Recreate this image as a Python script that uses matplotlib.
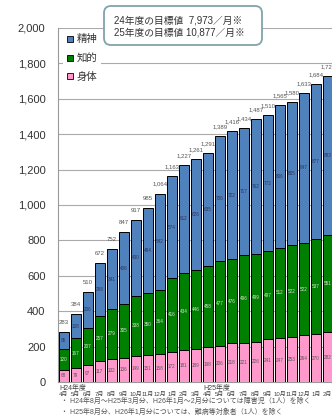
import numpy as np
import matplotlib
matplotlib.use('Agg')
import matplotlib.pyplot as plt
from matplotlib.lines import Line2D
from matplotlib.patches import FancyBboxPatch

plt.rcParams['font.family'] = ['Liberation Sans', 'Noto Sans CJK JP', 'DejaVu Sans']

# 月ラベル (H24年4月 ～ H26年2月)
months = ['4月', '5月', '6月', '7月', '8月', '9月', '10月', '11月', '12月', '1月', '2月', '3月',
          '4月', '5月', '6月', '7月', '8月', '9月', '10月', '11月', '12月', '1月', '2月']

# 身体・知的・精神 の人数
shintai = [68, 79, 97, 117, 132, 136, 149, 151, 158, 172, 181, 189,
           198, 206, 218, 221, 226, 241, 247, 253, 264, 270, 282]
chiteki = [120, 167, 207, 257, 279, 305, 338, 350, 364, 416, 434, 446,
           458, 477, 476, 496, 499, 497, 512, 522, 522, 537, 551]
seishin = [95, 138, 206, 298, 341, 406, 430, 484, 542, 574, 612, 626,
           635, 706, 722, 717, 762, 772, 806, 805, 847, 877, 893]
totals = [283, 384, 510, 672, 752, 847, 917, 985, 1064, 1163, 1227, 1261,
          1291, 1389, 1416, 1434, 1487, 1510, 1565, 1580, 1633, 1684, 1726]

c_blue = '#4f81bd'
c_green = '#008000'
c_pink = '#ff99cc'

W, H = 332, 417
fig = plt.figure(figsize=(W / 100, H / 100), dpi=100)
ax = fig.add_axes([58 / W, 1 - 382 / H, 1 - 58 / W, (382 - 28) / H])

x = np.arange(len(months))
bw = 0.79
s = np.array(shintai)
c = np.array(chiteki)
m = np.array(seishin)

ax.bar(x, s, bw, color=c_pink, edgecolor='black', linewidth=0.7, zorder=3)
ax.bar(x, c, bw, bottom=s, color=c_green, edgecolor='black', linewidth=0.7, zorder=3)
ax.bar(x, m, bw, bottom=s + c, color=c_blue, edgecolor='black', linewidth=0.7, zorder=3)

# 内訳ラベル
for i in range(len(x)):
    ax.text(x[i], s[i] / 2, str(s[i]), ha='center', va='center', fontsize=3.3, color='#555555', zorder=4)
    ax.text(x[i], s[i] + c[i] / 2, str(c[i]), ha='center', va='center', fontsize=3.3, color='#dddddd', zorder=4)
    ax.text(x[i], s[i] + c[i] + m[i] / 2, str(m[i]), ha='center', va='center', fontsize=3.3, color='#333355', zorder=4)
    ax.annotate(f'{totals[i]:,}', (x[i], totals[i]), xytext=(0, 5), textcoords='offset points',
                ha='center', va='bottom', fontsize=4.3, color='#555555', zorder=4, annotation_clip=False)

ax.set_ylim(0, 2000)
ax.set_xlim(-0.48, 22.35)
ax.set_yticks(range(0, 2001, 200))
ax.set_yticklabels([f'{v:,}' for v in range(0, 2001, 200)])
ax.tick_params(axis='y', length=0, pad=9, labelsize=8, labelcolor='#333333')
ax.set_xticks(x)
ax.set_xticklabels(months)
ax.tick_params(axis='x', length=0, pad=7.5, labelsize=4.3, labelcolor='#444444')
ax.yaxis.grid(True, color='#aaaaaa', linewidth=0.8, zorder=0)
ax.set_axisbelow(True)
for sp in ['top', 'right']:
    ax.spines[sp].set_visible(False)
ax.spines['left'].set_color('#999999')
ax.spines['bottom'].set_color('#999999')

ax.annotate('H24年度', (x[0] - bw / 2, 0), xytext=(0, -2), textcoords='offset points',
            ha='left', va='top', fontsize=5, color='#444444', annotation_clip=False)
ax.annotate('H25年度', (x[12] - bw / 2, 0), xytext=(0, -2), textcoords='offset points',
            ha='left', va='top', fontsize=5, color='#444444', annotation_clip=False)

handles = [Line2D([], [], marker='s', linestyle='none', markersize=4, markerfacecolor=col,
                  markeredgecolor='black', markeredgewidth=0.6) for col in [c_blue, c_green, c_pink]]
leg = ax.legend(handles, ['精神', '知的', '身体'], loc='upper left', bbox_to_anchor=(0.01, 1.0),
                fontsize=7.5, frameon=True, facecolor='white', edgecolor='none', framealpha=1,
                handlelength=0.6, handletextpad=0.3, labelspacing=0.85, borderpad=0.4, borderaxespad=0.2)
leg.set_zorder(5)
for t in leg.get_texts():
    t.set_color('#333333')

# 目標値の枠と注記 (ピクセル座標)
ov = fig.add_axes([0, 0, 1, 1], zorder=10)
ov.set_xlim(0, W)
ov.set_ylim(H, 0)
ov.axis('off')
ov.patch.set_alpha(0)
box = FancyBboxPatch((104, 6), 158, 39, boxstyle='round,pad=0,rounding_size=7',
                     facecolor='white', edgecolor='#7fa5a9', linewidth=1.3)
ov.add_patch(box)
ov.text(114, 20, '24年度の目標値  7,973／月※', fontsize=7, color='#333333', va='center', ha='left')
ov.text(114, 32, '25年度の目標値 10,877／月※', fontsize=7, color='#333333', va='center', ha='left')

ov.text(61, 401, '・ H24年8月～H25年3月分、H26年1月～2月分については障害児（1人）を除く',
        fontsize=5.0, color='#555555', va='center', ha='left')
ov.text(61, 412.5, '・ H25年8月分、H26年1月分については、難病等対象者（1人）を除く',
        fontsize=5.0, color='#555555', va='center', ha='left')

plt.savefig('out.png', dpi=100)
